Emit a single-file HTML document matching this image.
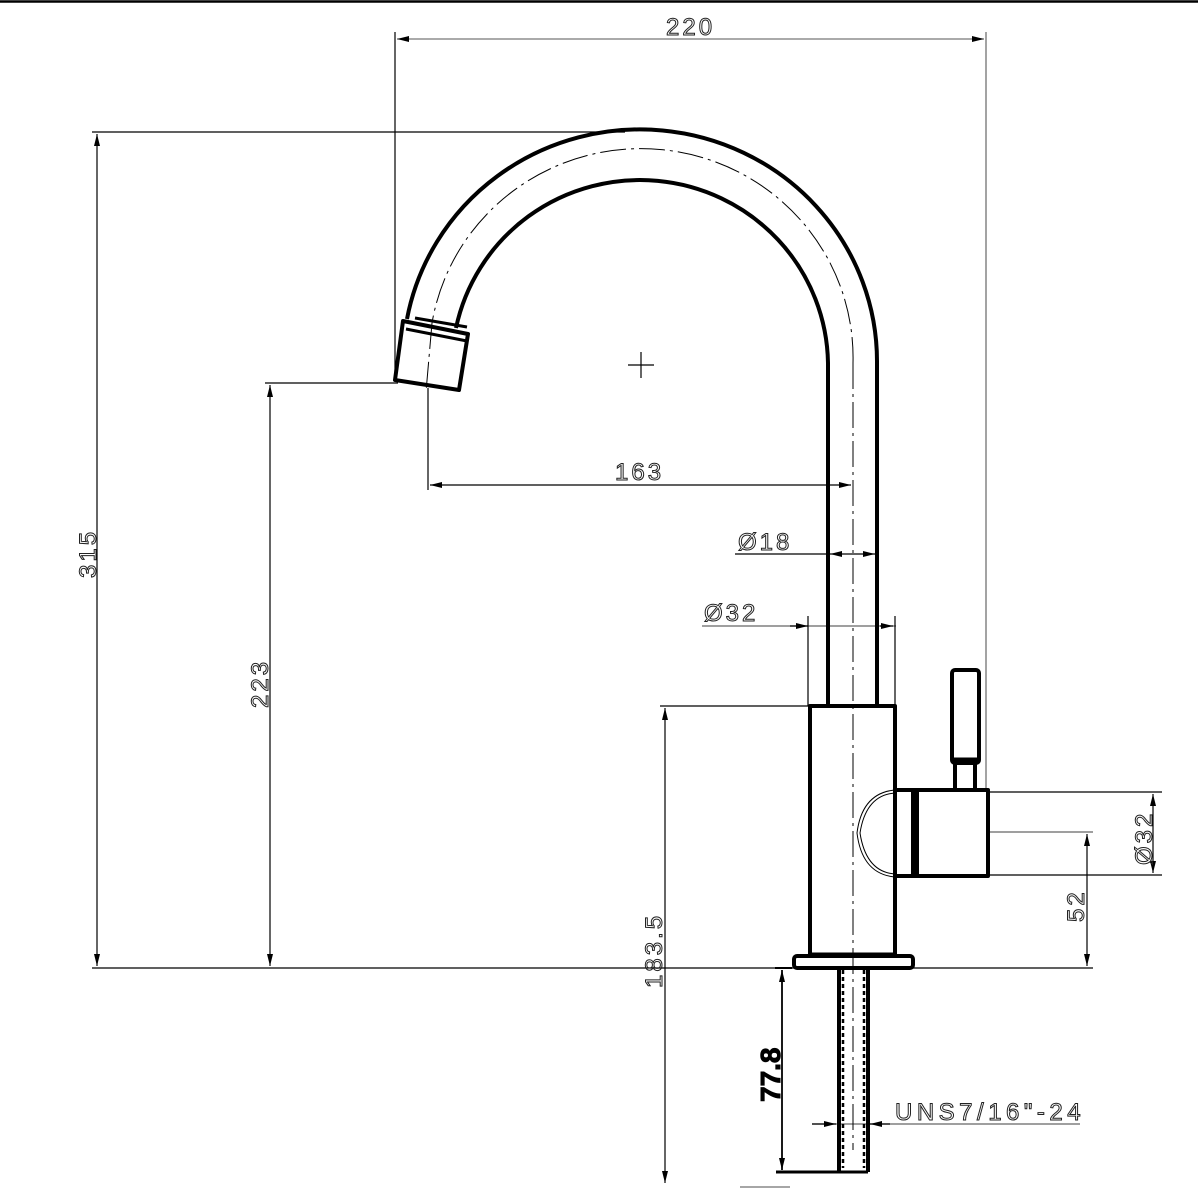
<!DOCTYPE html>
<html><head><meta charset="utf-8"><style>
html,body{margin:0;padding:0;background:#fff;}
svg{display:block;}
text{font-family:"Liberation Sans",sans-serif;font-size:24px;letter-spacing:3px;fill:none;stroke:#222;stroke-width:1;}
</style></head><body>
<svg width="1198" height="1198" viewBox="0 0 1198 1198" xmlns="http://www.w3.org/2000/svg">
<defs>
<marker id="a" viewBox="0 0 12 6" refX="12" refY="3" markerWidth="12" markerHeight="6" orient="auto-start-reverse" markerUnits="userSpaceOnUse"><path d="M0,0 L12,3 L0,6 z" fill="#000"/></marker>
</defs>
<line x1="0" y1="1.5" x2="1198" y2="1.5" stroke="#000" stroke-width="2.5"/>
<g stroke="#000" stroke-width="1.2" fill="none">
<line x1="395" y1="32" x2="395" y2="382"/>
<line x1="986" y1="32" x2="986" y2="790" stroke="#666"/>
<line x1="397" y1="39" x2="984" y2="39" stroke="#777" marker-start="url(#a)" marker-end="url(#a)"/>
<line x1="92" y1="132" x2="625" y2="132"/>
<line x1="97" y1="134" x2="97" y2="966" marker-start="url(#a)" marker-end="url(#a)"/>
<line x1="92" y1="968" x2="1093" y2="968"/>
<line x1="265" y1="383" x2="398" y2="383"/>
<line x1="270" y1="385" x2="270" y2="966" marker-start="url(#a)" marker-end="url(#a)"/>
<line x1="428" y1="388" x2="428" y2="490"/>
<line x1="430" y1="485" x2="851" y2="485" marker-start="url(#a)" marker-end="url(#a)"/>
<line x1="735" y1="554" x2="828" y2="554"/>
<line x1="853" y1="554" x2="830" y2="554" marker-end="url(#a)"/>
<line x1="853" y1="554" x2="875" y2="554" marker-end="url(#a)"/>
<line x1="702" y1="626" x2="896" y2="626" stroke="#666"/>
<line x1="808" y1="616" x2="808" y2="706"/>
<line x1="895" y1="616" x2="895" y2="706"/>
<line x1="790" y1="626" x2="808" y2="626" marker-end="url(#a)"/>
<line x1="880" y1="626" x2="893" y2="626" marker-end="url(#a)"/>
<line x1="660" y1="706" x2="808" y2="706"/>
<line x1="665" y1="708" x2="665" y2="1183" marker-start="url(#a)" marker-end="url(#a)"/>
<line x1="740" y1="1187" x2="790" y2="1187" stroke="#888" stroke-width="1.5"/>
<line x1="782" y1="970" x2="782" y2="1170" stroke-width="1.8" marker-start="url(#a)" marker-end="url(#a)"/>
<line x1="775" y1="968" x2="792" y2="968" stroke-width="2"/>
<line x1="776" y1="1172" x2="840" y2="1172" stroke-width="3"/>
<line x1="812" y1="1124" x2="1080" y2="1124" stroke="#666"/>
<line x1="812" y1="1124" x2="836" y2="1124" marker-end="url(#a)"/>
<line x1="890" y1="1124" x2="870" y2="1124" marker-end="url(#a)"/>
<line x1="988" y1="792" x2="1162" y2="792"/>
<line x1="988" y1="875" x2="1162" y2="875"/>
<line x1="1153" y1="794" x2="1153" y2="873" marker-start="url(#a)" marker-end="url(#a)"/>
<line x1="988" y1="832" x2="1093" y2="832" stroke="#666"/>
<line x1="1087" y1="834" x2="1087" y2="966" marker-start="url(#a)" marker-end="url(#a)"/>
<line x1="628" y1="365" x2="654" y2="365"/>
<line x1="641" y1="352" x2="641" y2="378"/>
</g>
<g stroke="#000" stroke-width="1" fill="none" stroke-dasharray="26,5,3,5">
<path d="M853,363 A212,209 0 0 0 432,323"/>
<line x1="853" y1="363" x2="853" y2="1150"/>
<line x1="432" y1="323" x2="426" y2="392"/>
</g>
<g stroke="#000" stroke-width="4" fill="none" stroke-linejoin="round">
<path d="M877,706 L877,363 A237,232 0 0 0 407,319"/>
<path d="M828,706 L828,363 A188,186 0 0 0 456,328"/>
<path d="M403,321 L468,334 L459,390 L395,380 Z"/>
<line x1="415" y1="318" x2="467" y2="327" stroke-width="3"/>
<line x1="406" y1="329" x2="467" y2="341" stroke-width="3"/>
<rect x="810" y="706" width="85" height="250"/>
<rect x="794" y="956" width="119" height="12" rx="3"/>
<line x1="810" y1="955" x2="895" y2="955" stroke-width="5"/>
<rect x="913" y="790" width="75" height="86"/>
<line x1="916" y1="790" x2="916" y2="876" stroke-width="6"/>
<line x1="895" y1="790" x2="913" y2="790"/>
<line x1="895" y1="876" x2="913" y2="876"/>
<rect x="952" y="670" width="27" height="93" rx="3"/>
<line x1="952" y1="760" x2="979" y2="760" stroke-width="5"/>
<rect x="955" y="763" width="20" height="27"/>
<line x1="839" y1="970" x2="839" y2="1172"/>
<line x1="868" y1="970" x2="868" y2="1172"/>
<line x1="839" y1="1172" x2="868" y2="1172" stroke-width="3"/>
</g>
<g stroke="#000" stroke-width="1" fill="none">
<path d="M895,793 Q866,795 860,833 Q866,872 895,874"/>
<path d="M895,790 Q862,793 857,833 Q862,874 895,877"/>
<line x1="843" y1="970" x2="843" y2="1168" stroke-dasharray="4,3" stroke-width="2.5"/>
<line x1="864" y1="970" x2="864" y2="1168" stroke-dasharray="4,3" stroke-width="2.5"/>
</g>
<text x="666" y="35">220</text>
<text x="615" y="480">163</text>
<text x="738" y="550">Ø18</text>
<text x="704" y="621">Ø32</text>
<text x="895" y="1120" style="letter-spacing:4.5px">UNS7/16"-24</text>
<text transform="translate(96,578) rotate(-90)">315</text>
<text transform="translate(268,708) rotate(-90)">223</text>
<text transform="translate(662,988) rotate(-90)">183.5</text>
<text transform="translate(1084,922) rotate(-90)">52</text>
<text transform="translate(1152,865) rotate(-90)">Ø32</text>
<text transform="translate(780,1102) rotate(-90)" style="fill:#000;stroke:#000;font-weight:bold;font-size:28px;letter-spacing:0">77.8</text>
</svg>
</body></html>
